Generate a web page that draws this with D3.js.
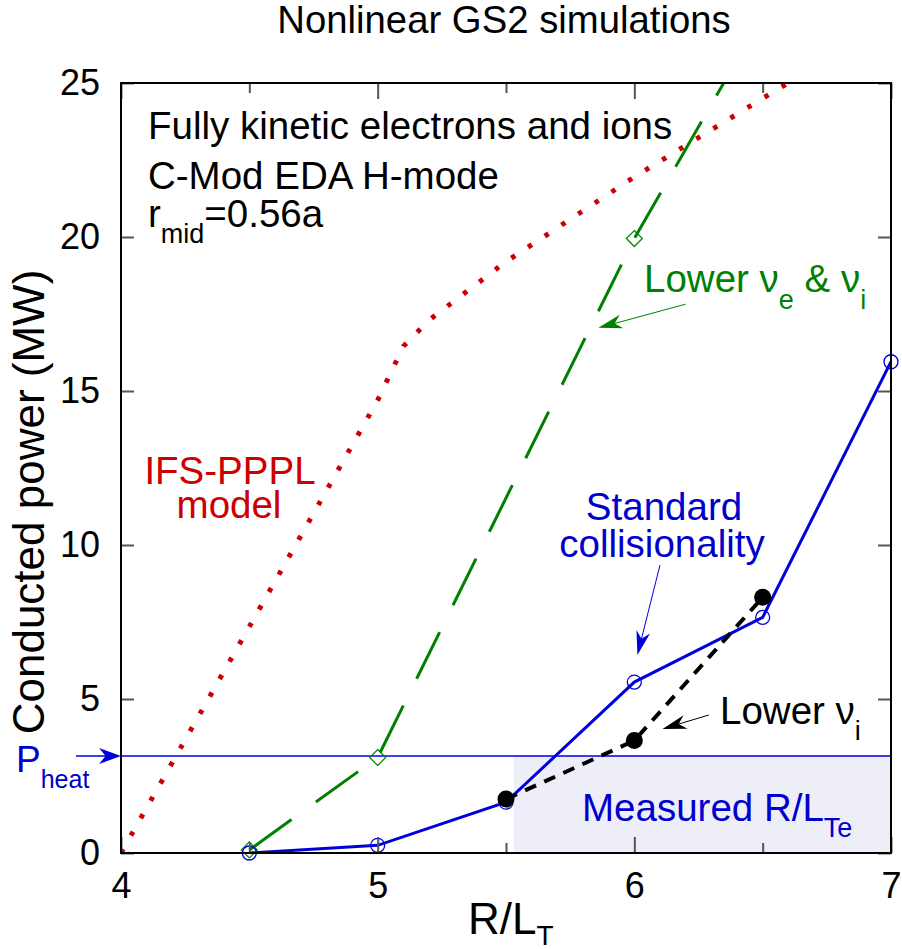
<!DOCTYPE html>
<html><head><meta charset="utf-8">
<script src="https://cdn.jsdelivr.net/npm/d3@7/dist/d3.min.js"></script>
<style>body{margin:0;background:#fff}svg{display:block}text{font-family:"Liberation Sans",Arial,Helvetica,sans-serif}</style>
</head><body><svg id="c" width="902" height="949"></svg>
<script>
// ---- data ----
const stdX = [4.5, 5, 5.5, 6, 6.5, 7];
const stdY = [0.0, 0.25, 1.65, 5.55, 7.65, 15.95];
const lowNuIX = [5.5, 6, 6.5];
const lowNuIY = [1.75, 3.65, 8.3];
const lowNuEIX = [4.5, 5, 6, 6.5];
const lowNuEIY = [0.1, 3.1, 19.95, 27.2];
const ifsX = [4, 4.5, 5, 5.1, 5.2, 5.5, 6, 6.5, 6.7];
const ifsY = [0, 7.35, 14.7, 16.45, 17.3, 19.2, 21.95, 24.5, 25.5];
const pHeat = 3.15;
const measuredStart = 5.53;
const xMajor = [4, 5, 6, 7];
const xMinor = [4.5, 5.5, 6.5];
const yMajor = [0, 5, 10, 15, 20, 25];

const BLUE = "#0000dd", GREEN = "#008000", RED = "#cc0000", TBLUE = "#0000cc";
const FS = 38.5, SFS = 27;
const svg = d3.select("#c");
const L = 121, R = 891, T = 83, B = 853;
const x = d3.scaleLinear().domain([4, 7]).range([L, R]);
const y = d3.scaleLinear().domain([0, 25]).range([B, T]);

svg.append("defs").append("clipPath").attr("id", "clip")
  .append("rect").attr("x", L).attr("y", T).attr("width", R - L).attr("height", B - T);

// shaded measured region
svg.append("rect").attr("x", x(measuredStart)).attr("y", y(pHeat))
  .attr("width", x(7) - x(measuredStart)).attr("height", y(0) - y(pHeat)).attr("fill", "#eeeef9");

// Pheat line
svg.append("line").attr("x1", x(4)).attr("x2", x(7)).attr("y1", y(pHeat)).attr("y2", y(pHeat))
  .attr("stroke", BLUE).attr("stroke-width", 1.5);

const line = d3.line().x(d => x(d[0])).y(d => y(d[1]));
const zip = (a, b) => a.map((v, i) => [v, b[i]]);
const g = svg.append("g").attr("clip-path", "url(#clip)");

g.append("path").attr("d", line(zip(ifsX, ifsY))).attr("fill", "none").attr("stroke", RED)
  .attr("stroke-width", 5).attr("stroke-dasharray", "4.5 15.5");
g.append("path").attr("d", line(zip(lowNuEIX, lowNuEIY))).attr("fill", "none").attr("stroke", GREEN)
  .attr("stroke-width", 3).attr("stroke-dasharray", "52 30");
g.append("path").attr("d", line(zip(stdX, stdY))).attr("fill", "none").attr("stroke", BLUE)
  .attr("stroke-width", 3);
g.append("path").attr("d", line(zip(lowNuIX, lowNuIY))).attr("fill", "none").attr("stroke", "#000")
  .attr("stroke-width", 4).attr("stroke-dasharray", "12 9");

// markers
svg.selectAll(".dia").data(zip(lowNuEIX, lowNuEIY).filter(d => d[1] <= 25)).enter().append("path")
  .attr("d", d => `M${x(d[0])},${y(d[1]) - 8}l8,8l-8,8l-8,-8z`).attr("fill", "none")
  .attr("stroke", GREEN).attr("stroke-width", 1.2);
svg.selectAll(".oc").data(zip(stdX, stdY)).enter().append("circle")
  .attr("cx", d => x(d[0])).attr("cy", d => y(d[1])).attr("r", 7)
  .attr("fill", "none").attr("stroke", BLUE).attr("stroke-width", 1.3);
svg.selectAll(".fc").data(zip(lowNuIX, lowNuIY)).enter().append("circle")
  .attr("cx", d => x(d[0])).attr("cy", d => y(d[1])).attr("r", 8.5).attr("fill", "#000");

// axes
function styleAxis(sel) {
  sel.select(".domain").remove();
  sel.selectAll(".tick line").attr("stroke", "#555").attr("stroke-width", 2);
  sel.selectAll("text").attr("font-size", 36).attr("fill", "#000")
    .attr("font-family", '"Liberation Sans",Arial,sans-serif');
}
svg.append("g").attr("transform", `translate(0,${B})`)
  .call(d3.axisBottom(x).tickValues(xMajor).tickFormat(d3.format("d")).tickSizeInner(-16).tickSizeOuter(0).tickPadding(19))
  .call(styleAxis);
svg.append("g").attr("transform", `translate(0,${B})`)
  .call(d3.axisBottom(x).tickValues(xMinor).tickFormat("").tickSizeInner(-10).tickSizeOuter(0)).call(styleAxis);
svg.append("g").attr("transform", `translate(0,${T})`)
  .call(d3.axisTop(x).tickValues(xMajor).tickFormat("").tickSizeInner(-16).tickSizeOuter(0)).call(styleAxis);
svg.append("g").attr("transform", `translate(0,${T})`)
  .call(d3.axisTop(x).tickValues(xMinor).tickFormat("").tickSizeInner(-10).tickSizeOuter(0)).call(styleAxis);
svg.append("g").attr("transform", `translate(${L},0)`)
  .call(d3.axisLeft(y).tickValues(yMajor).tickFormat(d3.format("d")).tickSizeInner(-13).tickSizeOuter(0).tickPadding(21))
  .call(styleAxis);
svg.append("g").attr("transform", `translate(${R},0)`)
  .call(d3.axisRight(y).tickValues(yMajor).tickFormat("").tickSizeInner(-13).tickSizeOuter(0)).call(styleAxis);

// frame
svg.append("rect").attr("x", L).attr("y", T).attr("width", R - L).attr("height", B - T)
  .attr("fill", "none").attr("stroke", "#000").attr("stroke-width", 2);

// arrows
function arrow(x1, y1, x2, y2, color, w, len, hw) {
  const X1 = x(x1), Y1 = y(y1), X2 = x(x2), Y2 = y(y2);
  const a = Math.atan2(Y2 - Y1, X2 - X1);
  const bx = X2 - len * Math.cos(a), by = Y2 - len * Math.sin(a);
  svg.append("line").attr("x1", X1).attr("y1", Y1).attr("x2", X2 - 8 * Math.cos(a)).attr("y2", Y2 - 8 * Math.sin(a))
    .attr("stroke", color).attr("stroke-width", w);
  const px = -Math.sin(a), py = Math.cos(a);
  const nx = X2 - len * 0.7 * Math.cos(a), ny = Y2 - len * 0.7 * Math.sin(a);
  svg.append("path").attr("d",
    `M${X2},${Y2}L${bx + hw * px},${by + hw * py}L${nx},${ny}L${bx - hw * px},${by - hw * py}Z`)
    .attr("fill", color);
}
arrow(3.825, pHeat, 4.0, pHeat, BLUE, 1.5, 22, 8);
arrow(6.10, 9.35, 6.012, 6.43, BLUE, 1, 24, 7);
arrow(6.29, 4.48, 6.11, 4.03, "#000", 1, 24, 7);
arrow(6.20, 17.82, 5.86, 17.05, GREEN, 1, 24, 7);

// texts
function txt(xp, yp, s, size, color, anchor) {
  return svg.append("text").attr("x", xp).attr("y", yp).attr("font-size", size).attr("fill", color)
    .attr("text-anchor", anchor || "start").text(s);
}
function sub(t, s, size, dy) {
  t.append("tspan").attr("font-size", size).attr("dy", dy).text(s);
}
txt(504, 33, "Nonlinear GS2 simulations", 38.3, "#000", "middle");
txt(148, 139, "Fully kinetic electrons and ions", FS, "#000");
txt(148, 189, "C-Mod EDA H-mode", FS, "#000");
{
  const t = txt(148, 227, "r", FS, "#000");
  sub(t, "mid", SFS, 16);
  t.append("tspan").attr("dy", -16).text("=0.56a");
}
txt(230, 484, "IFS-PPPL", FS, RED, "middle");
txt(229, 518, "model", FS, RED, "middle");
{
  const t = txt(644, 292, "Lower \u03bd", FS, GREEN);
  sub(t, "e", SFS, 17);
  t.append("tspan").attr("dy", -17).text(" & \u03bd");
  sub(t, "i", SFS, 17);
}
txt(664, 520, "Standard", FS, TBLUE, "middle");
txt(662, 557, "collisionality", FS, TBLUE, "middle");
{
  const t = txt(720, 724, "Lower \u03bd", FS, "#000");
  sub(t, "i", SFS, 16);
}
{
  const t = txt(582, 821, "Measured R/L", FS, TBLUE);
  sub(t, "Te", SFS, 16);
}
{
  const t = txt(16, 772, "P", 37, TBLUE);
  sub(t, "heat", 25, 16);
}
// axis titles
{
  const t = txt(468, 934, "R/L", 44, "#000");
  sub(t, "T", 28, 11);
}
svg.append("text").attr("transform", "translate(44,502) rotate(-90)").attr("text-anchor", "middle")
  .attr("font-size", 44).attr("fill", "#000").text("Conducted power (MW)");
</script></body></html>
